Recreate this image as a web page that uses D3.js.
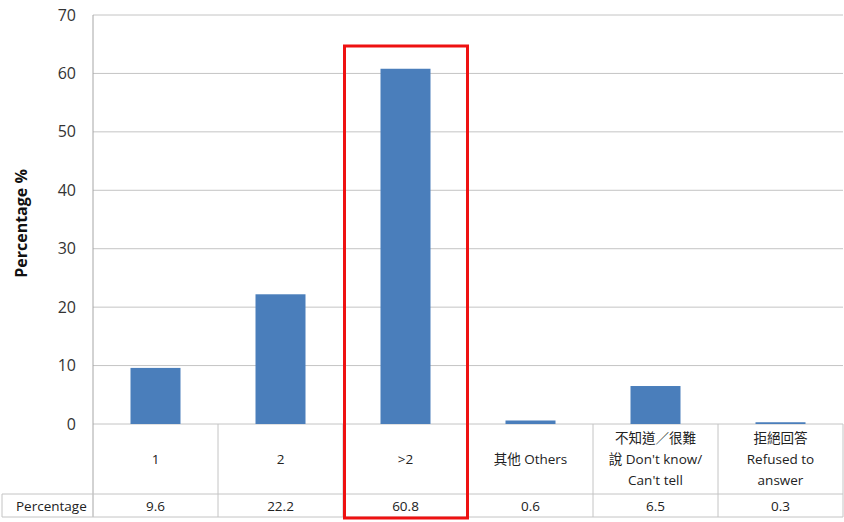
<!DOCTYPE html>
<html>
<head>
<script src="https://d3js.org/d3.v7.min.js" charset="utf-8"></script>
<style type="text/css">
	body {
		margin: 0;
		background-color: white;
		font-family: "Open Sans", "Noto Sans CJK TC", sans-serif;
	}
</style>
</head>
<body>
<script>
// data
var categories = ["1", "2", ">2", "其他 Others", "不知道／很難說 Don't know/ Can't tell", "拒絕回答 Refused to answer"];
var labelLines = [["1"], ["2"], [">2"], ["其他 Others"], ["不知道／很難", "說 Don't know/", "Can't tell"], ["拒絕回答", "Refused to", "answer"]];
var values = [9.6, 22.2, 60.8, 0.6, 6.5, 0.3];
var yTicks = [0, 10, 20, 30, 40, 50, 60, 70];
var seriesName = "Percentage";
var highlighted = ">2";

var w = 844, h = 522;
var plotLeft = 93, plotRight = 843, plotTop = 15, plotBottom = 424;
var tableMid = 494, tableBottom = 517;

var svg = d3.select("body").append("svg")
	.attr("width", w)
	.attr("height", h);

var x = d3.scaleBand()
	.domain(categories)
	.range([plotLeft, plotRight])
	.paddingInner(0)
	.paddingOuter(0);

var y = d3.scaleLinear()
	.domain([0, 70])
	.range([plotBottom, plotTop]);

// gridlines
svg.selectAll(".grid")
	.data(yTicks)
	.enter().append("line")
	.attr("x1", plotLeft).attr("x2", plotRight)
	.attr("y1", function(d) { return y(d); })
	.attr("y2", function(d) { return y(d); })
	.attr("stroke", "#c4c4c4")
	.attr("stroke-width", 1);

// y axis
var yAxis = d3.axisLeft(y).tickValues(yTicks).tickSize(0).tickPadding(17);
var ga = svg.append("g").attr("transform", "translate(" + plotLeft + ",0)").call(yAxis);
ga.select(".domain").remove();
ga.selectAll("text")
	.attr("font-size", 16)
	.attr("font-family", "Open Sans, sans-serif")
	.attr("fill", "#333");

svg.append("line")
	.attr("x1", plotLeft).attr("x2", plotLeft)
	.attr("y1", plotTop).attr("y2", tableBottom)
	.attr("stroke", "#a6a6a6");

svg.append("text")
	.attr("transform", "translate(27," + (y(35) + 4) + ") rotate(-90)")
	.attr("text-anchor", "middle")
	.attr("font-size", 16)
	.attr("font-weight", "bold")
	.attr("fill", "#111")
	.text("Percentage %");

// bars
var barW = 50;
svg.selectAll(".bar")
	.data(values)
	.enter().append("rect")
	.attr("x", function(d, i) { return x(categories[i]) + x.bandwidth() / 2 - barW / 2; })
	.attr("y", function(d) { return y(d); })
	.attr("width", barW)
	.attr("height", function(d) { return y(0) - y(d); })
	.attr("fill", "#4a7ebb");

// data table
var tbl = svg.append("g");
tbl.selectAll(".vline")
	.data(categories)
	.enter().append("line")
	.attr("x1", function(d) { return x(d) + x.bandwidth(); })
	.attr("x2", function(d) { return x(d) + x.bandwidth(); })
	.attr("y1", plotBottom).attr("y2", tableBottom)
	.attr("stroke", "#c4c4c4");

tbl.append("line")
	.attr("x1", 2).attr("x2", plotRight)
	.attr("y1", tableMid).attr("y2", tableMid)
	.attr("stroke", "#c4c4c4");
tbl.append("line")
	.attr("x1", 2).attr("x2", plotRight)
	.attr("y1", tableBottom).attr("y2", tableBottom)
	.attr("stroke", "#c4c4c4");
tbl.append("line")
	.attr("x1", 2).attr("x2", 2)
	.attr("y1", tableMid).attr("y2", tableBottom)
	.attr("stroke", "#c4c4c4");

// category labels
var lineH = 21;
categories.forEach(function(c, i) {
	var lines = labelLines[i];
	var cy = (plotBottom + tableMid) / 2 + 5;
	var y0 = cy - (lines.length - 1) * lineH / 2;
	var t = tbl.append("text")
		.attr("text-anchor", "middle")
		.attr("font-size", 13.5)
		.attr("fill", "#222");
	lines.forEach(function(l, j) {
		t.append("tspan")
			.attr("x", x(c) + x.bandwidth() / 2)
			.attr("y", y0 + j * lineH)
			.text(l);
	});
});

// value row
tbl.selectAll(".val")
	.data(values)
	.enter().append("text")
	.attr("x", function(d, i) { return x(categories[i]) + x.bandwidth() / 2; })
	.attr("y", tableMid + 17)
	.attr("text-anchor", "middle")
	.attr("font-size", 13.5)
	.attr("fill", "#222")
	.text(function(d) { return d.toFixed(1); });

tbl.append("text")
	.attr("x", 16)
	.attr("y", tableMid + 17)
	.attr("font-size", 13.5)
	.attr("fill", "#222")
	.text(seriesName);

// highlight box
svg.append("rect")
	.attr("x", x(highlighted) + 1.5)
	.attr("y", 46)
	.attr("width", x.bandwidth() - 2)
	.attr("height", 472)
	.attr("fill", "none")
	.attr("stroke", "#ee1111")
	.attr("stroke-width", 3);
</script>
</body>
</html>
